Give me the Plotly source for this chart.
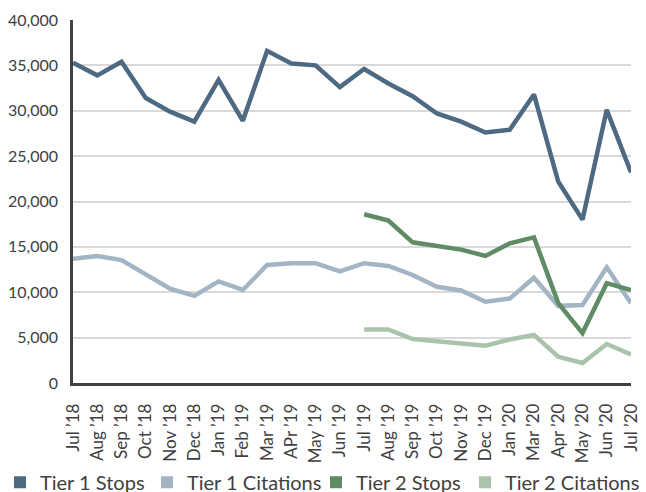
import plotly.graph_objects as go

months = ["Jul \u201918", "Aug \u201918", "Sep \u201918", "Oct \u201918", "Nov \u201918", "Dec \u201918",
          "Jan \u201919", "Feb \u201919", "Mar \u201919", "APr \u201919", "May \u201919", "Jun \u201919",
          "Jul \u201919", "Aug \u201919", "Sep \u201919", "Oct \u201919", "Nov \u201919", "Dec \u201919",
          "Jan \u201920", "Mar \u201920", "Apr \u201920", "May \u201920", "Jun \u201920", "Jul \u201920"]

tier1_stops = [35300, 33900, 35400, 31400, 29900, 28800, 33400, 28900, 36600,
               35200, 35000, 32600, 34600, 33000, 31600, 29700, 28800, 27600,
               27900, 31800, 22200, 18000, 30100, 23200]

tier1_citations = [13700, 14000, 13550, 12000, 10400, 9600, 11200, 10250, 13000,
                   13200, 13200, 12300, 13200, 12900, 11900, 10600, 10200, 8950,
                   9300, 11600, 8500, 8600, 12750, 8800]

tier2_stops = [None] * 12 + [18600, 17900, 15500, 15100, 14700, 14000,
                             15400, 16050, 8800, 5500, 11000, 10250]

tier2_citations = [None] * 12 + [5900, 5900, 4850, 4550, 4350, 4100,
                                 4800, 5300, 2900, 2200, 4300, 3150]

series = [
    ("Tier 1 Stops", tier1_stops, "#4e6a82"),
    ("Tier 1 Citations", tier1_citations, "#a3b5c4"),
    ("Tier 2 Stops", tier2_stops, "#5f8b65"),
    ("Tier 2 Citations", tier2_citations, "#a9c4ab"),
]

legend_ids = ["legend", "legend2", "legend3", "legend4"]
legend_x = [0.0, 147 / 646, 316 / 646, 465 / 646]
legend_w = [112, 136, 112, 136]

fig = go.Figure()
for name, vals, color in series:
    fig.add_trace(go.Scatter(x=months, y=vals, mode="lines", name=name,
                             line=dict(color=color, width=4.5),
                             showlegend=False, connectgaps=False))
for (name, vals, color), lid in zip(series, legend_ids):
    fig.add_trace(go.Scatter(x=[None], y=[None], mode="markers", name=name,
                             marker=dict(symbol="square", size=14, color=color),
                             showlegend=True, legend=lid))

legend_common = dict(orientation="h", xref="container", yref="container",
                     xanchor="left", y=0.02, yanchor="middle",
                     font=dict(size=20, color="#404040"), itemwidth=30,
                     entrywidthmode="pixels",
                     itemsizing="constant", bgcolor="rgba(0,0,0,0)", borderwidth=0)

fig.update_layout(
    width=646, height=492,
    margin=dict(l=73, r=15, t=20, b=109),
    paper_bgcolor="white", plot_bgcolor="white",
    font=dict(family="Lato, sans-serif", color="#404040"),
    showlegend=True,
    xaxis=dict(type="category", categoryorder="array", categoryarray=months,
               tickangle=-90, tickfont=dict(size=17, color="#404040"),
               showline=True, linecolor="#404040", linewidth=2.5,
               showgrid=False, ticks="outside", ticklen=11, tickcolor="white",
               automargin=False),
    yaxis=dict(range=[0, 40000], tickvals=[0, 5000, 10000, 15000, 20000, 25000, 30000, 35000, 40000],
               tickformat=",d", tickfont=dict(size=16, color="#404040"),
               showline=True, linecolor="#404040", linewidth=2.5,
               gridcolor="#d9d9d9", gridwidth=1.5, zeroline=False,
               ticks="outside", ticklen=9, tickcolor="white", automargin=False),
)
for lid, lx, lw in zip(legend_ids, legend_x, legend_w):
    fig.update_layout({lid: dict(legend_common, x=lx, entrywidth=lw)})

fig.write_html("out.html", config={"displayModeBar": False},
               post_script="document.body.style.margin='0px';")
